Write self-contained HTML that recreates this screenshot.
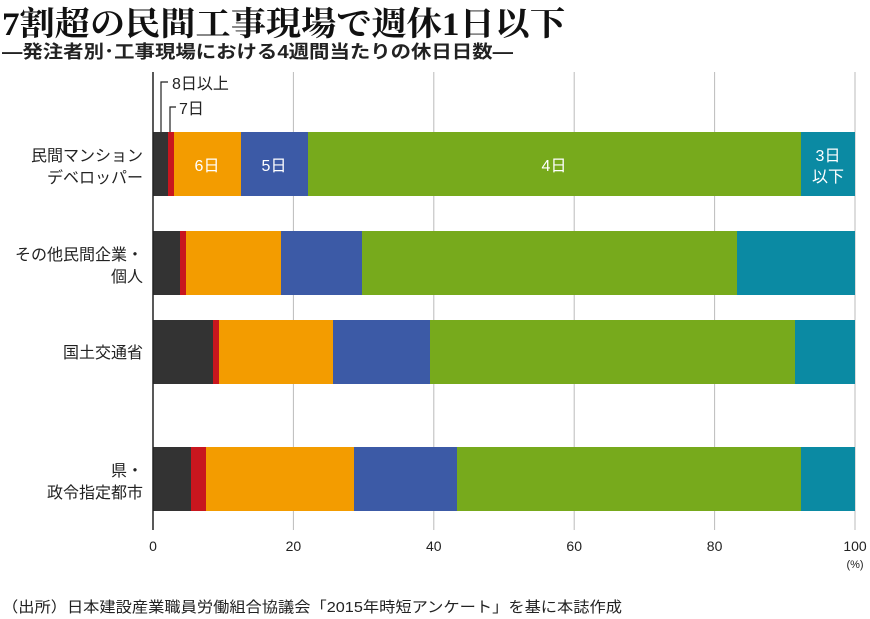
<!DOCTYPE html>
<html><head><meta charset="utf-8"><style>
body{margin:0;background:#fff;width:870px;height:619px;overflow:hidden}
svg{display:block}
text{font-family:"Liberation Sans","Noto Sans CJK JP",sans-serif}
</style></head><body>
<svg width="870" height="619" viewBox="0 0 870 619">
<text x="2" y="35" font-weight="bold" font-size="33" fill="#111" textLength="563" lengthAdjust="spacingAndGlyphs" style="font-family:'Liberation Serif','Noto Serif CJK SC',serif">7割超の民間工事現場で週休1日以下</text>
<text x="2" y="58" font-weight="bold" font-size="18" fill="#222" textLength="511" lengthAdjust="spacingAndGlyphs">―発注者別･工事現場における4週間当たりの休日日数―</text>
<g stroke="#bbb" stroke-width="1">
<line x1="293.4" y1="72" x2="293.4" y2="530"/><line x1="433.8" y1="72" x2="433.8" y2="530"/>
<line x1="574.2" y1="72" x2="574.2" y2="530"/><line x1="714.6" y1="72" x2="714.6" y2="530"/>
<line x1="855" y1="72" x2="855" y2="530"/>
</g>
<g>
<rect x="153" y="132" width="15" height="64" fill="#333"/><rect x="168" y="132" width="6" height="64" fill="#c8161e"/><rect x="174" y="132" width="67" height="64" fill="#f39c00"/><rect x="241" y="132" width="67" height="64" fill="#3c5aa6"/><rect x="308" y="132" width="493" height="64" fill="#77aa1c"/><rect x="801" y="132" width="54" height="64" fill="#0b8aa3"/>
<rect x="153" y="231" width="27" height="64" fill="#333"/><rect x="180" y="231" width="6" height="64" fill="#c8161e"/><rect x="186" y="231" width="95" height="64" fill="#f39c00"/><rect x="281" y="231" width="81" height="64" fill="#3c5aa6"/><rect x="362" y="231" width="375" height="64" fill="#77aa1c"/><rect x="737" y="231" width="118" height="64" fill="#0b8aa3"/>
<rect x="153" y="320" width="60" height="64" fill="#333"/><rect x="213" y="320" width="6" height="64" fill="#c8161e"/><rect x="219" y="320" width="114" height="64" fill="#f39c00"/><rect x="333" y="320" width="97" height="64" fill="#3c5aa6"/><rect x="430" y="320" width="365" height="64" fill="#77aa1c"/><rect x="795" y="320" width="60" height="64" fill="#0b8aa3"/>
<rect x="153" y="447" width="38" height="64" fill="#333"/><rect x="191" y="447" width="15" height="64" fill="#c8161e"/><rect x="206" y="447" width="148" height="64" fill="#f39c00"/><rect x="354" y="447" width="103" height="64" fill="#3c5aa6"/><rect x="457" y="447" width="344" height="64" fill="#77aa1c"/><rect x="801" y="447" width="54" height="64" fill="#0b8aa3"/>
</g>
<line x1="153" y1="72" x2="153" y2="530" stroke="#222" stroke-width="1.5"/>
<g fill="#fff" font-size="16" text-anchor="middle">
<text x="207" y="171">6日</text><text x="274" y="171">5日</text><text x="554" y="171">4日</text>
<text x="828" y="161">3日</text><text x="828" y="182">以下</text>
</g>
<g stroke="#222" stroke-width="1.2" fill="none">
<polyline points="161,132 161,82 168,82"/>
<polyline points="170,132 170,107 176,107"/>
</g>
<g font-size="16" fill="#222">
<text x="172" y="89">8日以上</text><text x="179" y="114">7日</text>
</g>
<g font-size="16" fill="#222" text-anchor="end">
<text x="143" y="161">民間マンション</text><text x="143" y="183">デベロッパー</text>
<text x="143" y="260">その他民間企業・</text><text x="143" y="282">個人</text>
<text x="143" y="358">国土交通省</text>
<text x="143" y="476">県・</text><text x="143" y="498">政令指定都市</text>
</g>
<g font-size="14" fill="#222" text-anchor="middle">
<text x="153" y="551">0</text><text x="293.4" y="551">20</text><text x="433.8" y="551">40</text><text x="574.2" y="551">60</text><text x="714.6" y="551">80</text><text x="855" y="551">100</text>
</g>
<text x="855" y="568" font-size="11" fill="#222" text-anchor="middle">(%)</text>
<text x="2" y="612" font-size="15" fill="#222" textLength="620" lengthAdjust="spacingAndGlyphs">（出所）日本建設産業職員労働組合協議会「2015年時短アンケート」を基に本誌作成</text>
</svg>
</body></html>
